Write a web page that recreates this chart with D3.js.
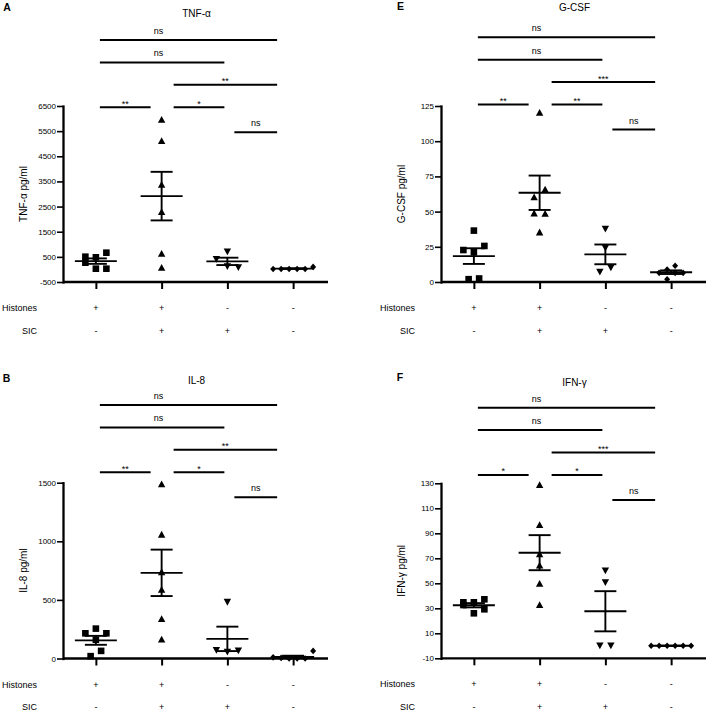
<!DOCTYPE html>
<html><head><meta charset="utf-8">
<script src="https://cdn.jsdelivr.net/npm/d3@7"></script>
<style>
body{margin:0;background:#fff}
svg{display:block}
text{font-family:"Liberation Sans",Arial,Helvetica,sans-serif;fill:#000}
</style>
</head><body>
<svg id="chart" width="708" height="714"></svg>
<script>
// ---------------- data ----------------
const groups = ["G1", "G2", "G3", "G4"];
const rowNames = ["Histones", "SIC"];
const histones = ["+", "+", "-", "-"];
const sic = ["-", "+", "+", "-"];
const shapes = ["square", "triUp", "triDown", "diamond"];
const comparisons = [[0, 3], [0, 2], [1, 3], [0, 1], [1, 2], [2, 3]];
const comparisonRows = [0, 1, 2, 3, 3, 4];

// Panel A: TNF-alpha
const tnfTitle = "TNF-α";
const tnfYLabel = "TNF-α pg/ml";
const tnfTicks = [-500, 500, 1500, 2500, 3500, 4500, 5500, 6500];
const tnfG1 = [268, 30, 30, 507, 482, 666];
const tnfG2 = [5970, 5120, 3384, 2296, 640, 84];
const tnfG3 = [700, 400, 110, 70];
const tnfG4 = [20, 20, 20, 20, 20, 100];
const tnfSig = ["ns", "ns", "**", "**", "*", "ns"];

// Panel B: IL-8
const il8Title = "IL-8";
const il8YLabel = "IL-8 pg/ml";
const il8Ticks = [0, 500, 1000, 1500];
const il8G1 = [215, 160, 215, 255, 20, 65];
const il8G2 = [1490, 1060, 740, 590, 340, 165];
const il8G3 = [480, 70, 55, 65];
const il8G4 = [10, 5, 0, 0, 0, 65];
const il8Sig = ["ns", "ns", "**", "**", "*", "ns"];

// Panel E: G-CSF
const gcsfTitle = "G-CSF";
const gcsfYLabel = "G-CSF pg/ml";
const gcsfTicks = [0, 25, 50, 75, 100, 125];
const gcsfG1 = [36.5, 22.7, 21.1, 25.6, 2, 2.5];
const gcsfG2 = [120.5, 60.5, 66, 49, 48.8, 35.5];
const gcsfG3 = [37.5, 24, 7, 10];
const gcsfG4 = [8.8, 6.5, 2, 6.5, 6.5, 11.5];
const gcsfSig = ["ns", "ns", "***", "**", "**", "ns"];

// Panel F: IFN-gamma
const ifnTitle = "IFN-γ";
const ifnYLabel = "IFN-γ pg/ml";
const ifnTicks = [-10, 10, 30, 50, 70, 90, 110, 130];
const ifnG1 = [34.8, 32.6, 34.8, 26, 29.2, 37.2];
const ifnG2 = [129, 97, 73.5, 64.5, 50, 33];
const ifnG3 = [60, 50.5, 0, 0];
const ifnG4 = [0, 0, 0, 0, 0, 0];
const ifnSig = ["ns", "ns", "***", "*", "*", "ns"];

// ---------------- layout ----------------
const panels = [
  {letter: "A", title: tnfTitle, ylabel: tnfYLabel, ticks: tnfTicks, values: [tnfG1, tnfG2, tnfG3, tnfG4], sig: tnfSig,
   axisX: 63, top: 106, bottom: 282, titleY: 17, letterX: 3.3, letterY: 10.5, sigY: 40},
  {letter: "E", title: gcsfTitle, ylabel: gcsfYLabel, ticks: gcsfTicks, values: [gcsfG1, gcsfG2, gcsfG3, gcsfG4], sig: gcsfSig,
   axisX: 441, top: 106, bottom: 282, titleY: 11, letterX: 397, letterY: 10.3, sigY: 37.3},
  {letter: "B", title: il8Title, ylabel: il8YLabel, ticks: il8Ticks, values: [il8G1, il8G2, il8G3, il8G4], sig: il8Sig,
   axisX: 63, top: 482.7, bottom: 658.5, titleY: 384, letterX: 2.7, letterY: 381.5, sigY: 405},
  {letter: "F", title: ifnTitle, ylabel: ifnYLabel, ticks: ifnTicks, values: [ifnG1, ifnG2, ifnG3, ifnG4], sig: ifnSig,
   axisX: 441, top: 483.3, bottom: 658.3, titleY: 386, letterX: 396.7, letterY: 381, sigY: 407.7}
];

const svg = d3.select("#chart");

const markerPath = {
  square: () => { const s = 6.6; return `M${-s/2},${-s/2}h${s}v${s}h${-s}Z`; },
  triUp: () => { const w = 7.4, h = 6.8; return `M0,${-h/2}L${w/2},${h/2}L${-w/2},${h/2}Z`; },
  triDown: () => { const w = 7.4, h = 6.8; return `M0,${h/2}L${w/2},${-h/2}L${-w/2},${-h/2}Z`; },
  diamond: () => { const w = 6, h = 6.6; return `M0,${-h/2}L${w/2},0L0,${h/2}L${-w/2},0Z`; }
};
const markerSpacing = {square: 10.5, triUp: 11, triDown: 11, diamond: 8};

// GraphPad-like horizontal spreading of points with similar values
function dodge(vals, y, thresh) {
  const pts = vals.map((v, i) => ({v, i, py: y(v), off: 0}));
  const sorted = pts.slice().sort((a, b) => b.py - a.py);
  const rows = [];
  let cur = null;
  for (const p of sorted) {
    if (cur && cur.start - p.py < thresh) cur.items.push(p);
    else { cur = {start: p.py, items: [p]}; rows.push(cur); }
  }
  rows.forEach(r => {
    r.items.sort((a, b) => a.i - b.i);
    const n = r.items.length;
    r.items.forEach((p, k) => { p.off = k - (n - 1) / 2; });
  });
  return pts;
}

panels.forEach(p => {
  const g = svg.append("g");
  const axisW = 265;
  const x = d3.scalePoint().domain(groups).range([p.axisX, p.axisX + 263]).padding(0.5);
  const y = d3.scaleLinear().domain([d3.min(p.ticks), d3.max(p.ticks)]).range([p.bottom, p.top]);

  // panel letter
  g.append("text").attr("x", p.letterX).attr("y", p.letterY)
    .attr("font-size", 10.5).attr("font-weight", "bold").text(p.letter);
  // title
  g.append("text").attr("x", p.axisX + 133.5).attr("y", p.titleY)
    .attr("text-anchor", "middle").attr("font-size", 10).text(p.title);

  // y axis
  const ya = g.append("g").attr("transform", `translate(${p.axisX},0)`)
    .call(d3.axisLeft(y).tickValues(p.ticks).tickSize(6).tickSizeOuter(0).tickPadding(1).tickFormat(d => String(d)));
  ya.select(".domain").attr("stroke", "#000").attr("stroke-width", 2.3).attr("stroke-linecap", "square");
  ya.selectAll(".tick line").attr("stroke", "#000").attr("stroke-width", 1.6);
  ya.selectAll(".tick text").attr("font-size", 8).attr("fill", "#000")
    .attr("font-family", '"Liberation Sans",Arial,sans-serif');

  // y label
  g.append("text")
    .attr("transform", `translate(${p.axisX - 40},${(p.top + p.bottom) / 2}) rotate(-90)`)
    .attr("text-anchor", "middle").attr("dy", "0.35em").attr("font-size", 10).text(p.ylabel);

  // x axis
  const xa = g.append("g").attr("transform", `translate(0,${p.bottom})`)
    .call(d3.axisBottom(x).tickSize(7).tickSizeOuter(0).tickFormat(""));
  xa.select(".domain").remove();
  xa.selectAll(".tick line").attr("stroke", "#000").attr("stroke-width", 2);
  g.append("line").attr("x1", p.axisX).attr("x2", p.axisX + axisW)
    .attr("y1", p.bottom).attr("y2", p.bottom)
    .attr("stroke", "#000").attr("stroke-width", 2.3);

  // condition rows
  [histones, sic].forEach((row, ri) => {
    const yy = p.bottom + 29 + ri * 22.5;
    g.append("text").attr("x", p.axisX - 26).attr("y", yy).attr("text-anchor", "end")
      .attr("font-size", 9).text(rowNames[ri]);
    g.selectAll(null).data(row).enter().append("text")
      .attr("x", (d, i) => x(groups[i])).attr("y", yy)
      .attr("text-anchor", "middle").attr("font-size", 9).text(d => d);
  });

  // points
  p.values.forEach((vals, gi) => {
    const shape = shapes[gi];
    const pts = dodge(vals, y, 9.5);
    const cx = x(groups[gi]);
    g.selectAll(null).data(pts).enter().append("path")
      .attr("d", markerPath[shape]())
      .attr("transform", d => `translate(${cx + d.off * markerSpacing[shape]},${d.py})`)
      .attr("fill", "#000");
    // mean +/- SEM
    const m = d3.mean(vals);
    const sem = vals.length > 1 ? (d3.deviation(vals) || 0) / Math.sqrt(vals.length) : 0;
    const eb = g.append("g").attr("stroke", "#000").attr("stroke-width", 1.9).attr("fill", "none");
    eb.append("line").attr("x1", cx - 21).attr("x2", cx + 21).attr("y1", y(m)).attr("y2", y(m));
    eb.append("line").attr("x1", cx).attr("x2", cx).attr("y1", y(m + sem)).attr("y2", y(m - sem));
    [m + sem, m - sem].forEach(v => {
      eb.append("line").attr("x1", cx - 11).attr("x2", cx + 11).attr("y1", y(v)).attr("y2", y(v));
    });
  });

  // significance brackets
  const startOff = [4, 12, 7, 0];
  const endOff = [0, -11, -3, -16];
  comparisons.forEach((c, k) => {
    const row = comparisonRows[k];
    const ly = row < 4 ? p.sigY + row * 22.4 : p.sigY + 3 * 22.4 + 25;
    const x1 = x(groups[c[0]]) + startOff[c[0]];
    const x2 = x(groups[c[1]]) + endOff[c[1]];
    g.append("line").attr("x1", x1).attr("x2", x2).attr("y1", ly).attr("y2", ly)
      .attr("stroke", "#000").attr("stroke-width", 2);
    const lab = p.sig[k];
    const lx = (c[0] === 0 && (c[1] === 2 || c[1] === 3))
      ? (x(groups[0]) + x(groups[2])) / 2 - 3
      : (x1 + x2) / 2;
    const isStar = lab.indexOf("*") >= 0;
    g.append("text").attr("x", lx).attr("y", ly - (isStar ? 0.5 : 6))
      .attr("text-anchor", "middle").attr("font-size", 9).text(lab);
  });
});
</script>
</body></html>
